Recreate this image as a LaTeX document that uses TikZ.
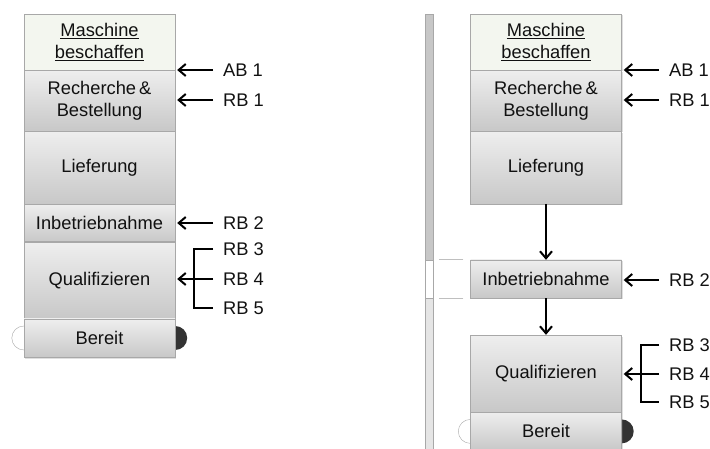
\documentclass[tikz,border=0pt]{standalone}
\usepackage{fontspec}
\setmainfont{Liberation Sans}
\usetikzlibrary{arrows.meta, positioning, calc, shadows, backgrounds}
\definecolor{bxline}{HTML}{A8A8A8}
\definecolor{bxtop}{HTML}{EEEEEE}
\definecolor{bxbot}{HTML}{C8C8C8}
\definecolor{bxhead}{HTML}{F3F6EF}
\definecolor{txtdark}{HTML}{111111}

\begin{document}
\begin{tikzpicture}[x=1pt, y=-1pt, font=\fontsize{18.3}{22}\selectfont, text=txtdark,
      stage/.style={draw=bxline, top color=bxtop, bottom color=bxbot, minimum width=151pt,
                    inner sep=0pt, align=center,
                    drop shadow={shadow xshift=1pt, shadow yshift=-1.5pt, opacity=.25}},
      headbox/.style={draw=bxline, fill=bxhead, minimum width=151pt, minimum height=56pt,
                    inner sep=0pt, align=center,
                    drop shadow={shadow xshift=1pt, shadow yshift=-1.5pt, opacity=.25}},
      lab/.style={anchor=west, inner sep=0pt},
      pin/.style={-{Straight Barb[length=7pt, width=12pt]}, line width=2pt,
                  shorten <=10pt, shorten >=2pt},
      brk/.style={line width=2pt},
      flow/.style={-{Straight Barb[length=7pt, width=12pt]}, line width=2pt}]
  \useasboundingbox (0,0) rectangle (710,449);

  % left: stacked stages
  \node[headbox] (lmasch) at (99.5,42) {\underline{Maschine}\\\underline{beschaffen}};
  \node[stage, minimum height=60.5pt, below=0pt of lmasch] (lrech) {Recherche\,\&\\Bestellung};
  \node[stage, minimum height=72.5pt, below=0pt of lrech] (llief) {Lieferung};
  \node[stage, minimum height=37.5pt, below=0pt of llief] (linb) {Inbetriebnahme};
  \node[stage, minimum height=76.5pt, below=0pt of linb] (lqual) {Qualifizieren};
  \node[stage, minimum height=38pt, below=0pt of lqual] (lber) {Bereit};

  \node[lab] (lab1) at (223,70) {AB 1};
  \node[lab] (lrb1) at (223,100) {RB 1};
  \node[lab] (lrb2) at (223,223) {RB 2};
  \node[lab] (lrb3) at (223,249) {RB 3};
  \node[lab] (lrb4) at (223,279) {RB 4};
  \node[lab] (lrb5) at (223,308) {RB 5};

  \draw[pin] (lab1.west) -- (lab1.west -| lrech.east);
  \draw[pin] (lrb1.west) -- (lrb1.west -| lrech.east);
  \draw[pin] (lrb2.west) -- (lrb2.west -| linb.east);
  \draw[pin] (lrb4.west) -- (lrb4.west -| lqual.east);
  \draw[brk] ([xshift=-10pt]lrb3.west) -| ([xshift=-29pt]lrb4.west) |- ([xshift=-10pt]lrb5.west);

  % right: split stages
  \node[headbox] (rmasch) at (546,42) {\underline{Maschine}\\\underline{beschaffen}};
  \node[stage, minimum height=60.5pt, below=0pt of rmasch] (rrech) {Recherche\,\&\\Bestellung};
  \node[stage, minimum height=72.5pt, below=0pt of rrech] (rlief) {Lieferung};
  \node[stage, minimum height=38pt] (rinb) at (546,279) {Inbetriebnahme};
  \node[stage, minimum height=77pt] (rqual) at (546,373.5) {Qualifizieren};
  \node[stage, minimum height=38pt, below=0pt of rqual] (rber) {Bereit};

  \draw[flow] (rlief) -- (rinb);
  \draw[flow] (rinb) -- (rqual);

  \node[lab] (rab1) at (669,70) {AB 1};
  \node[lab] (rrb1) at (669,100) {RB 1};
  \node[lab] (rrb2) at (669,280) {RB 2};
  \node[lab] (rrb3) at (669,345) {RB 3};
  \node[lab] (rrb4) at (669,374) {RB 4};
  \node[lab] (rrb5) at (669,402) {RB 5};

  \draw[pin] (rab1.west) -- (rab1.west -| rrech.east);
  \draw[pin] (rrb1.west) -- (rrb1.west -| rrech.east);
  \draw[pin] (rrb2.west) -- (rrb2.west -| rinb.east);
  \draw[pin] (rrb4.west) -- (rrb4.west -| rqual.east);
  \draw[brk] ([xshift=-10pt]rrb3.west) -| ([xshift=-28pt]rrb4.west) |- ([xshift=-10pt]rrb5.west);

  % time bar with gap
  \draw[bxline, fill=black!22] (425,14) rectangle (433,260);
  \draw[bxline, fill=white] (425,260) rectangle (433,298);
  \draw[bxline, fill=black!10] (425,298) rectangle (433,452);
  \draw[black!25, line width=.8pt] ([xshift=-7pt]rinb.north west) -- ++(-24,0);
  \draw[black!25, line width=.8pt] ([xshift=-7pt]rinb.south west) -- ++(-24,0);

  % ready markers
  \begin{scope}[on background layer]
    \draw[bxline, fill=white] (lber.west) circle[radius=12pt];
    \fill[black!80] (lber.east) circle[radius=12pt];
    \draw[bxline, fill=white] (rber.west) circle[radius=12pt];
    \fill[black!80] (rber.east) circle[radius=12pt];
  \end{scope}
\end{tikzpicture}
\end{document}
